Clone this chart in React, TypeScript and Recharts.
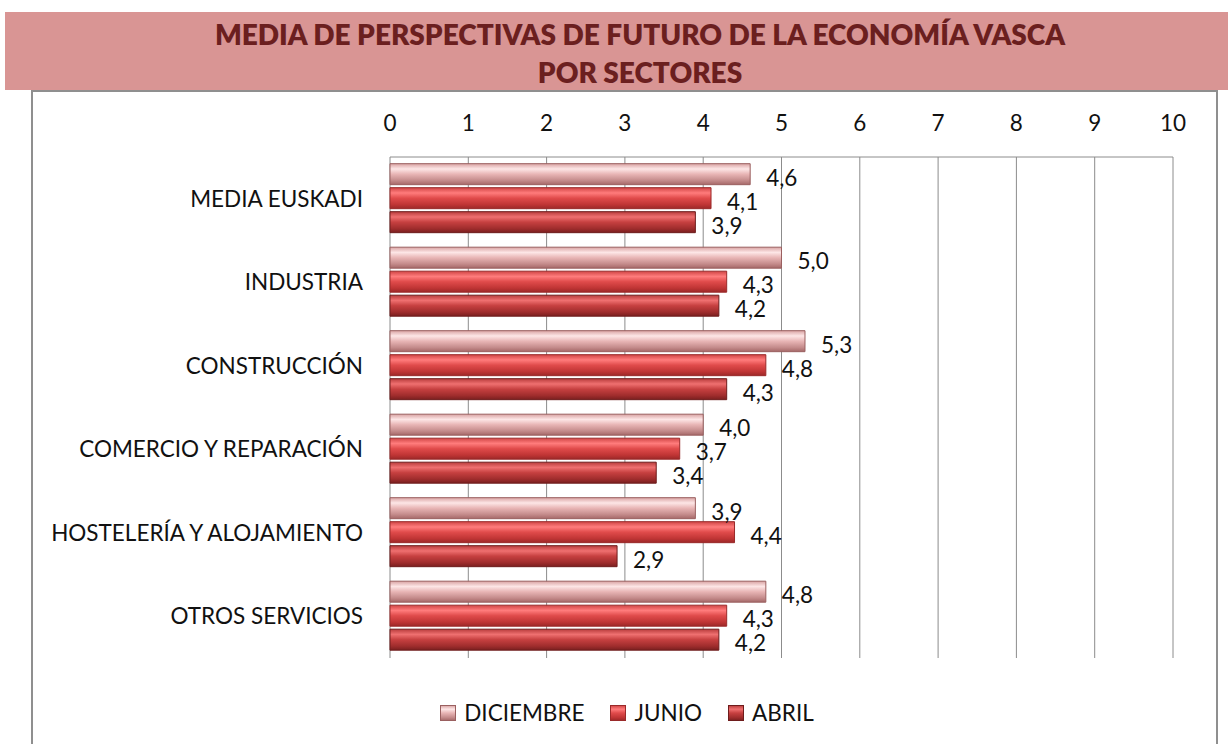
import React from 'react'
import { BarChart, Bar, XAxis, YAxis, CartesianGrid, Legend, LabelList } from 'recharts'

const sectors = [
  'MEDIA EUSKADI',
  'INDUSTRIA',
  'CONSTRUCCIÓN',
  'COMERCIO Y REPARACIÓN',
  'HOSTELERÍA Y ALOJAMIENTO',
  'OTROS SERVICIOS',
]
const diciembre = [4.6, 5.0, 5.3, 4.0, 3.9, 4.8]
const junio = [4.1, 4.3, 4.8, 3.7, 4.4, 4.3]
const abril = [3.9, 4.2, 4.3, 3.4, 2.9, 4.2]
const xTicks = [0, 1, 2, 3, 4, 5, 6, 7, 8, 9, 10]

const series = [
  { key: 'diciembre', name: 'DICIEMBRE', grad: 'gDic', stroke: '#9a6060' },
  { key: 'junio', name: 'JUNIO', grad: 'gJun', stroke: '#9a2a2a' },
  { key: 'abril', name: 'ABRIL', grad: 'gAbr', stroke: '#6e1c1c' },
]

const data = sectors.map((name, i) => ({
  name,
  diciembre: diciembre[i],
  junio: junio[i],
  abril: abril[i],
}))

const FONT = 'Lato, "Open Sans", sans-serif'

const fmt = (v: number) => v.toFixed(1).replace('.', ',')

function ValueLabel(props: any) {
  const { x, y, width, height, value } = props
  return (
    <text
      x={x + width + 16}
      y={y + height / 2 + 3}
      fontSize={22.5}
      fontFamily={FONT}
      fill="#111"
      dominantBaseline="central"
    >
      {fmt(value)}
    </text>
  )
}

function LegendContent() {
  return (
    <div style={{ display: 'flex', justifyContent: 'center', alignItems: 'center', fontFamily: FONT, fontSize: 22.5, color: '#111', paddingLeft: 52 }}>
      {series.map((s) => (
        <div key={s.key} style={{ display: 'flex', alignItems: 'center', marginRight: 26 }}>
          <svg width={16} height={16} style={{ marginRight: 8 }}>
            <rect x={0.5} y={0.5} width={15} height={15} fill={`url(#${s.grad})`} stroke={s.stroke} />
          </svg>
          <span>{s.name}</span>
        </div>
      ))}
    </div>
  )
}

export default function App() {
  return (
    <div style={{ position: 'absolute', left: 0, top: 0, width: 1228, height: 744, overflow: 'hidden', background: '#fff' }}>
      <div style={{ position: 'absolute', left: 5, top: 12, width: 1223, height: 78, background: '#d99594' }} />
      <div
        style={{
          position: 'absolute',
          left: 0,
          top: 15,
          width: 1280,
          textAlign: 'center',
          fontFamily: FONT,
          fontWeight: 800,
          fontSize: 28,
          lineHeight: '38px',
          color: '#6b1f1f',
        }}
      >
        MEDIA DE PERSPECTIVAS DE FUTURO DE LA ECONOMÍA VASCA
        <br />
        POR SECTORES
      </div>
      <div style={{ position: 'absolute', left: 31, top: 90, width: 1183, height: 700, border: '2px solid #8f8f8f' }} />
      <div style={{ position: 'absolute', left: 0, top: 0 }}>
        <BarChart
          width={1228}
          height={744}
          data={data}
          layout="vertical"
          margin={{ top: 117, right: 55, bottom: 86, left: 0 }}
          barCategoryGap="8%"
          barGap={3}
        >
          <defs>
            <linearGradient id="gDic" x1="0" y1="0" x2="0" y2="1">
              <stop offset="0%" stopColor="#d9a3a3" />
              <stop offset="25%" stopColor="#fde6e6" />
              <stop offset="50%" stopColor="#e8b5b5" />
              <stop offset="80%" stopColor="#c48b8b" />
              <stop offset="100%" stopColor="#a56868" />
            </linearGradient>
            <linearGradient id="gJun" x1="0" y1="0" x2="0" y2="1">
              <stop offset="0%" stopColor="#d04545" />
              <stop offset="25%" stopColor="#ff7c7c" />
              <stop offset="50%" stopColor="#e04b4b" />
              <stop offset="80%" stopColor="#c03535" />
              <stop offset="100%" stopColor="#9c2828" />
            </linearGradient>
            <linearGradient id="gAbr" x1="0" y1="0" x2="0" y2="1">
              <stop offset="0%" stopColor="#b83c3c" />
              <stop offset="25%" stopColor="#ef7070" />
              <stop offset="50%" stopColor="#c64040" />
              <stop offset="80%" stopColor="#a02d2d" />
              <stop offset="100%" stopColor="#7a1f1f" />
            </linearGradient>
          </defs>
          <CartesianGrid horizontal={false} vertical stroke="#8c8c8c" />
          <XAxis
            type="number"
            orientation="top"
            domain={[0, 10]}
            ticks={xTicks}
            interval={0}
            height={40}
            axisLine={{ stroke: '#8c8c8c' }}
            tickLine={false}
            tickSize={0}
            tickMargin={26}
            tick={{ fill: '#111', fontSize: 22.5, fontFamily: FONT }}
          />
          <YAxis
            type="category"
            dataKey="name"
            width={390}
            axisLine={false}
            tickLine={false}
            tickSize={0}
            tickMargin={27}
            tick={{ fill: '#111', fontSize: 22.5, fontFamily: FONT }}
          />
          <Legend verticalAlign="middle" align="center" wrapperStyle={{ top: 699, left: 0, width: 1228 }} content={<LegendContent />} />
          {series.map((s) => (
            <Bar
              key={s.key}
              dataKey={s.key}
              name={s.name}
              fill={`url(#${s.grad})`}
              stroke={s.stroke}
              strokeWidth={1}
              isAnimationActive={false}
            >
              <LabelList dataKey={s.key} content={<ValueLabel />} />
            </Bar>
          ))}
        </BarChart>
      </div>
    </div>
  )
}
